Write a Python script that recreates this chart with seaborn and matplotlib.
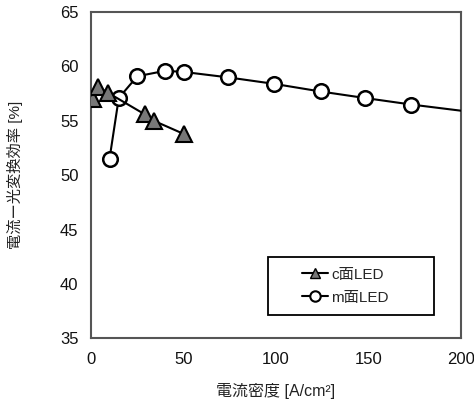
import matplotlib
matplotlib.use("Agg")
import matplotlib.pyplot as plt
import seaborn as sns
import pandas as pd
from matplotlib.lines import Line2D
from matplotlib.patches import Rectangle

c_x = [1, 4, 9, 29, 34, 50]
c_y = [57.0, 58.1, 57.6, 55.6, 55.0, 53.8]
m_x = [10, 15, 25, 40, 50, 74, 99, 124, 148, 173, 225]
m_y = [51.5, 57.1, 59.1, 59.6, 59.5, 59.0, 58.4, 57.7, 57.1, 56.5, 55.4]
c_name = "c面LED"
m_name = "m面LED"
xlabel = "電流密度 [A/cm²]"
ylabel = "電流ー光変換効率 [%]"
xticks = [0, 50, 100, 150, 200]
yticks = [35, 40, 45, 50, 55, 60, 65]

sns.set_theme(style="white")
plt.rcParams['font.family'] = ['Liberation Sans', 'Noto Sans CJK JP', 'DejaVu Sans']

df_c = pd.DataFrame({"x": c_x, "y": c_y})
df_m = pd.DataFrame({"x": m_x, "y": m_y})

fig = plt.figure(figsize=(4.74, 4.05), dpi=100)
ax = fig.add_axes([0.192, 0.165, 0.781, 0.805])

sns.lineplot(data=df_m, x="x", y="y", ax=ax, color="black", linewidth=1.5,
             marker="o", markersize=10.5, markerfacecolor="white",
             markeredgecolor="black", markeredgewidth=1.8, sort=False, zorder=3)
sns.lineplot(data=df_c, x="x", y="y", ax=ax, color="black", linewidth=1.5,
             marker="^", markersize=11, markerfacecolor="#777777",
             markeredgecolor="black", markeredgewidth=1.5, sort=False, zorder=4)

ax.set_xlim(0, 200)
ax.set_ylim(35, 65)
ax.set_xticks(xticks)
ax.set_yticks(yticks)
ax.tick_params(direction="in", length=4, width=1, color="#555555",
               labelsize=12, labelcolor="#111111")
ax.tick_params(axis="y", pad=9)
ax.tick_params(axis="x", pad=10)
for s in ax.spines.values():
    s.set_visible(True)
    s.set_color("#555555")
    s.set_linewidth(1.5)

ax.set_xlabel("")
ax.set_ylabel("")
fig.text(276 / 474, 1 - 391 / 405, xlabel, fontsize=11.5, ha="center",
         va="center", color="#222222")
fig.text(15 / 474, 1 - 175 / 405, ylabel, fontsize=11, ha="center",
         va="center", rotation=90, color="#222222")

ax.add_patch(Rectangle((0.478, 0.07), 0.449, 0.178, transform=ax.transAxes,
                       fill=True, facecolor="white", edgecolor="black",
                       linewidth=1.3, zorder=5))

handles = [
    Line2D([], [], color="black", linewidth=1.5, marker="^", markersize=7,
           markerfacecolor="#777777", markeredgecolor="black"),
    Line2D([], [], color="black", linewidth=1.5, marker="o", markersize=7.5,
           markerfacecolor="white", markeredgecolor="black", markeredgewidth=1.5),
]
leg = ax.legend(handles, [c_name, m_name], loc="center left",
                bbox_to_anchor=((302 - 91) / 370, (338 - 286) / 326),
                fontsize=11, frameon=False, handlelength=1.7,
                handletextpad=0.2, borderpad=0, borderaxespad=0,
                labelspacing=0.6)
leg.set_zorder(6)

fig.savefig("out.png", dpi=100)
